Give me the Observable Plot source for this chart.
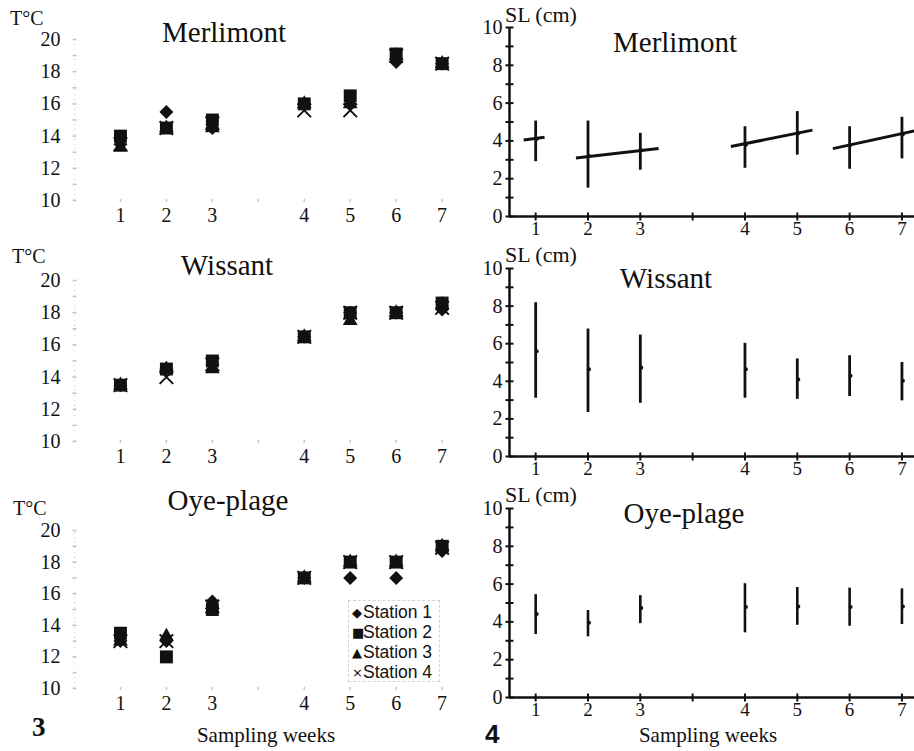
<!DOCTYPE html>
<html>
<head>
<meta charset="utf-8">
<script src="https://cdn.jsdelivr.net/npm/d3@7"></script>
<script src="https://cdn.jsdelivr.net/npm/@observablehq/plot@0.6"></script>
<style>
  body { margin: 0; background: #fff; }
  #fig { position: relative; width: 914px; height: 751px; background: #fff; overflow: hidden; }
  .panel { position: absolute; }
  #fig svg, #fig svg text { font-family: "Liberation Serif", "Times New Roman", serif !important; }
  .lbl { position: absolute; white-space: nowrap; line-height: 1; color: #111; }
  .serif { font-family: "Liberation Serif", "Times New Roman", serif; }
  .sans { font-family: "Liberation Sans", Arial, sans-serif; }
</style>
</head>
<body>
<div id="fig"></div>
<script>
// ---------- data ----------
const weeks = [1, 2, 3, 4, 5, 6, 7];
const weekPos = [1, 2, 3, 5, 6, 7, 8];        // plotting position (gap after week 3)
const axisTickPos = [1, 2, 3, 4, 5, 6, 7, 8];
const tempTicks = [10, 12, 14, 16, 18, 20];
const slTicks = [0, 2, 4, 6, 8, 10];
const slMinorTicks = [0, 1, 2, 3, 4, 5, 6, 7, 8, 9, 10];
const sites = ["Merlimont", "Wissant", "Oye-plage"];
const stations = ["Station 1", "Station 2", "Station 3", "Station 4"];

// Temperature (°C) per station
const tMerlimontS1 = [13.5, 15.5, 14.5, 16.0, 16.0, 18.6, 18.5];
const tMerlimontS2 = [14.0, 14.5, 15.0, 16.0, 16.5, 19.1, 18.5];
const tMerlimontS3 = [13.3, 14.5, 14.5, 16.0, 16.0, 19.0, 18.5];
const tMerlimontS4 = [13.5, 14.5, 14.8, 15.6, 15.6, 19.0, 18.5];

const tWissantS1 = [13.5, 14.5, 14.8, 16.5, 18.0, 18.0, 18.2];
const tWissantS2 = [13.5, 14.5, 15.0, 16.5, 18.0, 18.0, 18.6];
const tWissantS3 = [13.5, 14.5, 14.5, 16.5, 17.5, 18.0, 18.5];
const tWissantS4 = [13.5, 14.0, 14.8, 16.5, 18.0, 18.0, 18.3];

const tOyeS1 = [13.0, 13.0, 15.5, 17.0, 17.0, 17.0, 18.7];
const tOyeS2 = [13.5, 12.0, 15.0, 17.0, 18.0, 18.0, 19.0];
const tOyeS3 = [13.0, 13.3, 15.3, 17.0, 18.0, 18.0, 19.0];
const tOyeS4 = [13.0, 13.0, 15.2, 17.0, 18.0, 18.0, 18.9];

// Standard length SL (cm): mean, min, max
const slMerlimontMean = [4.1, 3.2, 3.5, 3.8, 4.4, 3.8, 4.35];
const slMerlimontMin  = [2.9, 1.5, 2.45, 2.55, 3.25, 2.5, 3.05];
const slMerlimontMax  = [5.05, 5.05, 4.4, 4.75, 5.55, 4.75, 5.25];

const slWissantMean = [5.6, 4.64, 4.72, 4.64, 4.1, 4.3, 4.03];
const slWissantMin  = [3.1, 2.34, 2.83, 3.1, 3.04, 3.19, 2.96];
const slWissantMax  = [8.18, 6.78, 6.46, 6.02, 5.19, 5.36, 5.0];

const slOyeMean = [4.42, 3.95, 4.74, 4.79, 4.82, 4.79, 4.82];
const slOyeMin  = [3.33, 3.21, 3.91, 3.42, 3.82, 3.77, 3.86];
const slOyeMax  = [5.44, 4.6, 5.39, 6.02, 5.82, 5.79, 5.75];

// Merlimont growth lines (start/end in plotting position, SL cm)
const fitX1 = [0.77, 1.77, 4.73, 6.68];
const fitY1 = [4.05, 3.1, 3.7, 3.59];
const fitX2 = [1.17, 3.35, 6.29, 8.24];
const fitY2 = [4.19, 3.6, 4.57, 4.53];

// ---------- helpers ----------
const fig = document.getElementById("fig");
const ink = "#111";
const serifFont = "'Liberation Serif', 'Times New Roman', serif";
const hDash = {draw(ctx, size) { const r = Math.sqrt(size / Math.PI); ctx.moveTo(-r, 0); ctx.lineTo(r, 0); }};
const vDash = {draw(ctx, size) { const r = Math.sqrt(size / Math.PI); ctx.moveTo(0, -r); ctx.lineTo(0, r); }};
const posToWeek = p => { const i = weekPos.indexOf(p); return i < 0 ? "" : String(weeks[i]); };

function place(node, left, top) {
  const d = document.createElement("div");
  d.className = "panel";
  d.style.left = left + "px";
  d.style.top = top + "px";
  d.appendChild(node);
  fig.appendChild(d);
}

function label(text, x, baseline, {size = 20, anchor = "start", cls = "serif", weight = "normal"} = {}) {
  const d = document.createElement("div");
  d.className = "lbl " + cls;
  d.textContent = text;
  d.style.fontSize = size + "px";
  d.style.fontWeight = weight;
  const k = cls === "serif" ? 0.8375 : 0.8465;
  d.style.top = (baseline - k * size) + "px";
  d.style.left = x + "px";
  if (anchor === "middle") d.style.transform = "translateX(-50%)";
  fig.appendChild(d);
  return d;
}

function tempPanel(s1, s2, s3, s4, top, plotTop, plotBottom, H) {
  const rows = arr => weekPos.map((p, i) => ({x: p, y: arr[i]}));
  const chart = Plot.plot({
    width: 460, height: H,
    marginLeft: 74, marginRight: 0,
    marginTop: plotTop, marginBottom: H - plotBottom,
    x: {domain: [0, 8.4], label: null},
    y: {domain: [10, 20], label: null},
    style: {fontFamily: serifFont, background: "transparent", color: ink, overflow: "visible"},
    marks: [
      Plot.ruleX([0], {y1: 10, y2: 20, stroke: "#cfcfcf", strokeDasharray: "1,4"}),
      Plot.dot(slMinorTicks.map(d => 10 + d), {x: () => 0, y: d => d, symbol: hDash, r: 2, fill: "none", stroke: "#c4c4c4"}),
      Plot.dot(axisTickPos, {x: d => d, y: () => 10, symbol: vDash, r: 1.5, fill: "none", stroke: "#c4c4c4"}),
      Plot.axisY(tempTicks, {tickSize: 0, tickPadding: 14, fontSize: 20, fontFamily: serifFont, label: null}),
      Plot.axisX(weekPos, {tickSize: 0, tickPadding: 7, fontSize: 20, fontFamily: serifFont, label: null, tickFormat: posToWeek}),
      Plot.dot(rows(s3), {x: "x", y: "y", symbol: "triangle", r: 5.5, fill: ink}),
      Plot.dot(rows(s1), {x: "x", y: "y", symbol: "diamond2", r: 6.3, fill: ink}),
      Plot.dot(rows(s2), {x: "x", y: "y", symbol: "square", r: 7.3, fill: ink}),
      Plot.dot(rows(s4), {x: "x", y: "y", symbol: "times", r: 6.2, stroke: ink, strokeWidth: 2})
    ]
  });
  place(chart, 0, top);
}

function slPanel(mean, min, max, fits, top, plotTop, plotBottom, H, barWidth) {
  const rows = weekPos.map((p, i) => ({x: p, mean: mean[i], lo: min[i], hi: max[i]}));
  const marks = [
    Plot.ruleY([0], {stroke: ink, strokeWidth: 2.5}),
    Plot.ruleX([0.5], {y1: 0, y2: 10, stroke: ink, strokeWidth: 2.5}),
    Plot.dot(slMinorTicks, {x: () => 0.5, y: d => d, symbol: hDash, r: 4, fill: "none", stroke: ink, strokeWidth: 2}),
    Plot.dot(axisTickPos, {x: d => d, y: () => 0, symbol: vDash, r: 4, fill: "none", stroke: ink, strokeWidth: 2}),
    Plot.axisY(slTicks, {tickSize: 0, tickPadding: 7, fontSize: 20, fontFamily: serifFont, label: null}),
    Plot.axisX(weekPos, {tickSize: 0, tickPadding: 5, fontSize: 19, fontFamily: serifFont, label: null, tickFormat: posToWeek}),
    Plot.ruleX(rows, {x: "x", y1: "lo", y2: "hi", stroke: ink, strokeWidth: barWidth}),
    Plot.dot(rows, {x: "x", y: "mean", r: 2, fill: ink, dx: 1})
  ];
  if (fits) {
    const links = fits.x1.map((x1, i) => ({x1, y1: fits.y1[i], x2: fits.x2[i], y2: fits.y2[i]}));
    marks.push(Plot.link(links, {x1: "x1", y1: "y1", x2: "x2", y2: "y2", stroke: ink, strokeWidth: 3}));
  }
  const chart = Plot.plot({
    width: 454, height: H,
    marginLeft: 49, marginRight: 0,
    marginTop: plotTop, marginBottom: H - plotBottom,
    x: {domain: [0.5, 8.24], label: null},
    y: {domain: [0, 10], label: null},
    style: {fontFamily: serifFont, background: "transparent", color: ink, overflow: "visible"},
    marks
  });
  place(chart, 460, top);
}

// ---------- left: temperature ----------
tempPanel(tMerlimontS1, tMerlimontS2, tMerlimontS3, tMerlimontS4, 0, 39, 200, 240);
tempPanel(tWissantS1, tWissantS2, tWissantS3, tWissantS4, 240, 40, 201, 240);
tempPanel(tOyeS1, tOyeS2, tOyeS3, tOyeS4, 490, 40, 198, 261);

// ---------- right: SL ----------
slPanel(slMerlimontMean, slMerlimontMin, slMerlimontMax, {x1: fitX1, y1: fitY1, x2: fitX2, y2: fitY2}, 0, 27, 216, 240, 2.8);
slPanel(slWissantMean, slWissantMin, slWissantMax, null, 240, 28, 216, 240, 2.8);
slPanel(slOyeMean, slOyeMin, slOyeMax, null, 480, 28, 217, 271, 2.6);

// ---------- texts ----------
label("T°C", 10, 25);
label("T°C", 12, 263);
label("T°C", 13, 515);
label(sites[0], 224, 42, {size: 29, anchor: "middle"});
label(sites[1], 227, 275, {size: 29, anchor: "middle"});
label(sites[2], 228, 510, {size: 29, anchor: "middle"});

label("SL (cm)", 505, 22, {size: 22});
label("SL (cm)", 505, 262, {size: 22});
label("SL (cm)", 505, 502, {size: 22});
label(sites[0], 675, 52, {size: 29, anchor: "middle"});
label(sites[1], 666, 288, {size: 29, anchor: "middle"});
label(sites[2], 684, 523, {size: 29, anchor: "middle"});

label("3", 32, 737, {size: 27, weight: "bold"});
label("Sampling weeks", 266, 743, {size: 21, anchor: "middle"});
label("4", 485, 743, {size: 26, weight: "bold", cls: "sans"});
label("Sampling weeks", 708, 743, {size: 21, anchor: "middle"});

// legend
const box = document.createElement("div");
box.style.cssText = "position:absolute;left:348px;top:600px;width:92px;height:82px;border:1px dashed #d4d4d4;box-sizing:border-box;";
fig.appendChild(box);
const legendSymbols = ["◆", "■", "▲", "×"];
stations.forEach((s, i) => {
  const d = label("", 352, 619 + i * 20, {size: 17.5, cls: "sans"});
  const sym = document.createElement("span");
  sym.textContent = legendSymbols[i];
  sym.style.cssText = "display:inline-block;width:11px;font-size:13px;font-family:'DejaVu Sans',sans-serif;vertical-align:1px;";
  d.appendChild(sym);
  d.appendChild(document.createTextNode(s));
});
</script>
</body>
</html>
